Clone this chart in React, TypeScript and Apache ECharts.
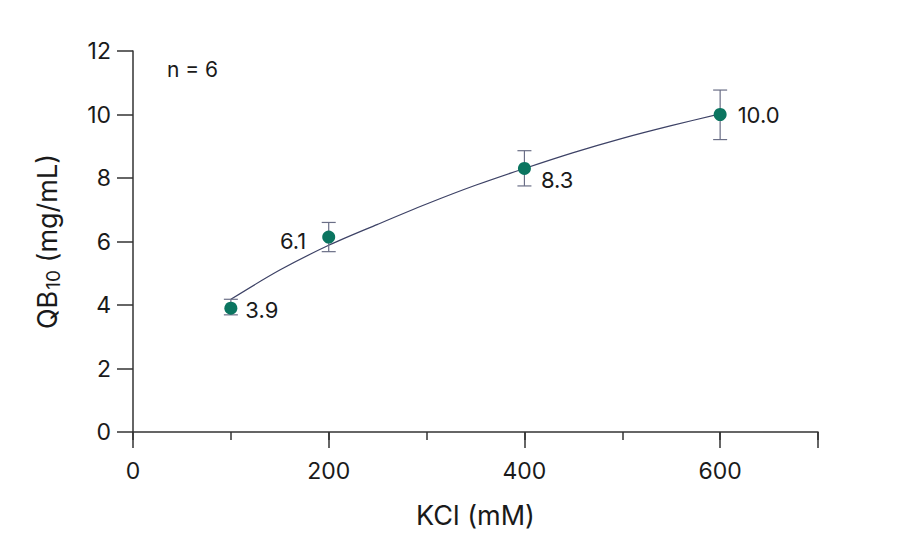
import React, { useEffect, useRef } from "react";
import * as echarts from "echarts";

const kcl = [100, 200, 400, 600];
const qb10 = [3.9, 6.14, 8.3, 10.0];
const errLow = [3.69, 5.68, 7.75, 9.21];
const errHigh = [4.18, 6.6, 8.86, 10.77];
const fitX = [100, 150, 200, 250, 300, 350, 400, 450, 500, 550, 600];
const fitY = [4.18, 5.1, 5.88, 6.54, 7.18, 7.77, 8.3, 8.8, 9.25, 9.65, 10.02];
const xMajorTicks = [0, 200, 400, 600];

const FONT = "Inter, Roboto, 'Noto Sans', sans-serif";
const AXIS = "#333333";
const TEXT = "#1a1a1a";
const GREEN = "#0b7560";

export default function App() {
  const ref = useRef<HTMLDivElement>(null);
  useEffect(() => {
    document.body.style.margin = "0";
    if (!ref.current) return;
    const chart = echarts.init(ref.current, undefined, { renderer: "svg" });
    const labelPos: any[] = [
      { position: "right", distance: 8, offset: [0, 2] },
      { position: "left", distance: 16, offset: [0, 4] },
      { position: "right", distance: 10, offset: [0, 12] },
      { position: "right", distance: 11, offset: [0, 0] },
    ];
    chart.setOption({
      animation: false,
      backgroundColor: "#ffffff",
      textStyle: { fontFamily: FONT },
      grid: { left: 133, right: 90, top: 51, bottom: 128, containLabel: false },
      xAxis: [
        {
          type: "value",
          min: 0,
          max: 700,
          interval: 200,
          position: "bottom",
          name: "KCl (mM)",
          nameLocation: "middle",
          nameGap: 70,
          nameTextStyle: { fontSize: 27, color: TEXT, fontFamily: FONT },
          axisLine: { show: true, onZero: false, lineStyle: { color: AXIS, width: 1.5 } },
          axisTick: { show: true, inside: false, length: 16, lineStyle: { color: AXIS, width: 1.5 } },
          axisLabel: {
            fontSize: 23,
            color: TEXT,
            margin: 27,
            fontFamily: FONT,
            formatter: (v: number) => (xMajorTicks.includes(v) ? String(v) : ""),
          },
          splitLine: { show: false },
        },
        {
          type: "value",
          min: 0,
          max: 700,
          interval: 100,
          position: "bottom",
          axisLine: { show: false, onZero: false },
          axisTick: { show: true, inside: false, length: 8, lineStyle: { color: AXIS, width: 1.5 } },
          axisLabel: { show: false },
          splitLine: { show: false },
        },
      ],
      yAxis: {
        type: "value",
        min: 0,
        max: 12,
        interval: 2,
        name: "QB{sub|10} (mg/mL)",
        nameLocation: "middle",
        nameGap: 70,
        nameRotate: 90,
        nameTextStyle: {
          fontSize: 27,
          color: TEXT,
          fontFamily: FONT,
          rich: {
            sub: { fontSize: 19, color: TEXT, fontFamily: FONT, verticalAlign: "bottom", padding: [13, 0, 0, 1] },
          },
        },
        axisLine: { show: true, onZero: false, lineStyle: { color: AXIS, width: 1.5 } },
        axisTick: { show: true, inside: false, length: 16, lineStyle: { color: AXIS, width: 1.5 } },
        axisLabel: { fontSize: 23, color: TEXT, margin: 22, fontFamily: FONT },
        splitLine: { show: false },
      },
      series: [
        {
          type: "line",
          xAxisIndex: 0,
          data: fitX.map((x, i) => [x, fitY[i]]),
          smooth: 0.3,
          showSymbol: false,
          symbol: "none",
          lineStyle: { color: "#3d4266", width: 1.2 },
          z: 2,
        },
        {
          type: "custom",
          xAxisIndex: 0,
          data: kcl.map((x, i) => [x, errLow[i], errHigh[i]]),
          renderItem: (params: any, api: any) => {
            const x = api.value(0);
            const lo = api.coord([x, api.value(1)]);
            const hi = api.coord([x, api.value(2)]);
            const hw = 7;
            const style = { stroke: "#6a6e86", lineWidth: 1.2 };
            return {
              type: "group",
              children: [
                { type: "line", shape: { x1: lo[0], y1: lo[1], x2: hi[0], y2: hi[1] }, style },
                { type: "line", shape: { x1: lo[0] - hw, y1: lo[1], x2: lo[0] + hw, y2: lo[1] }, style },
                { type: "line", shape: { x1: hi[0] - hw, y1: hi[1], x2: hi[0] + hw, y2: hi[1] }, style },
              ],
            };
          },
          z: 3,
        },
        {
          type: "scatter",
          xAxisIndex: 0,
          symbol: "circle",
          symbolSize: 13,
          itemStyle: { color: GREEN, opacity: 1 },
          data: kcl.map((x, i) => ({
            value: [x, qb10[i]],
            label: {
              show: true,
              ...labelPos[i],
              formatter: qb10[i].toFixed(1),
              fontSize: 22,
              color: TEXT,
              fontFamily: FONT,
            },
          })),
          z: 4,
        },
      ],
      graphic: [
        {
          type: "text",
          left: 167,
          top: 59,
          style: { text: "n = 6", fontSize: 21, fill: TEXT, fontFamily: FONT },
        },
      ],
    });
    return () => chart.dispose();
  }, []);
  return <div ref={ref} style={{ width: 908, height: 560 }} />;
}
